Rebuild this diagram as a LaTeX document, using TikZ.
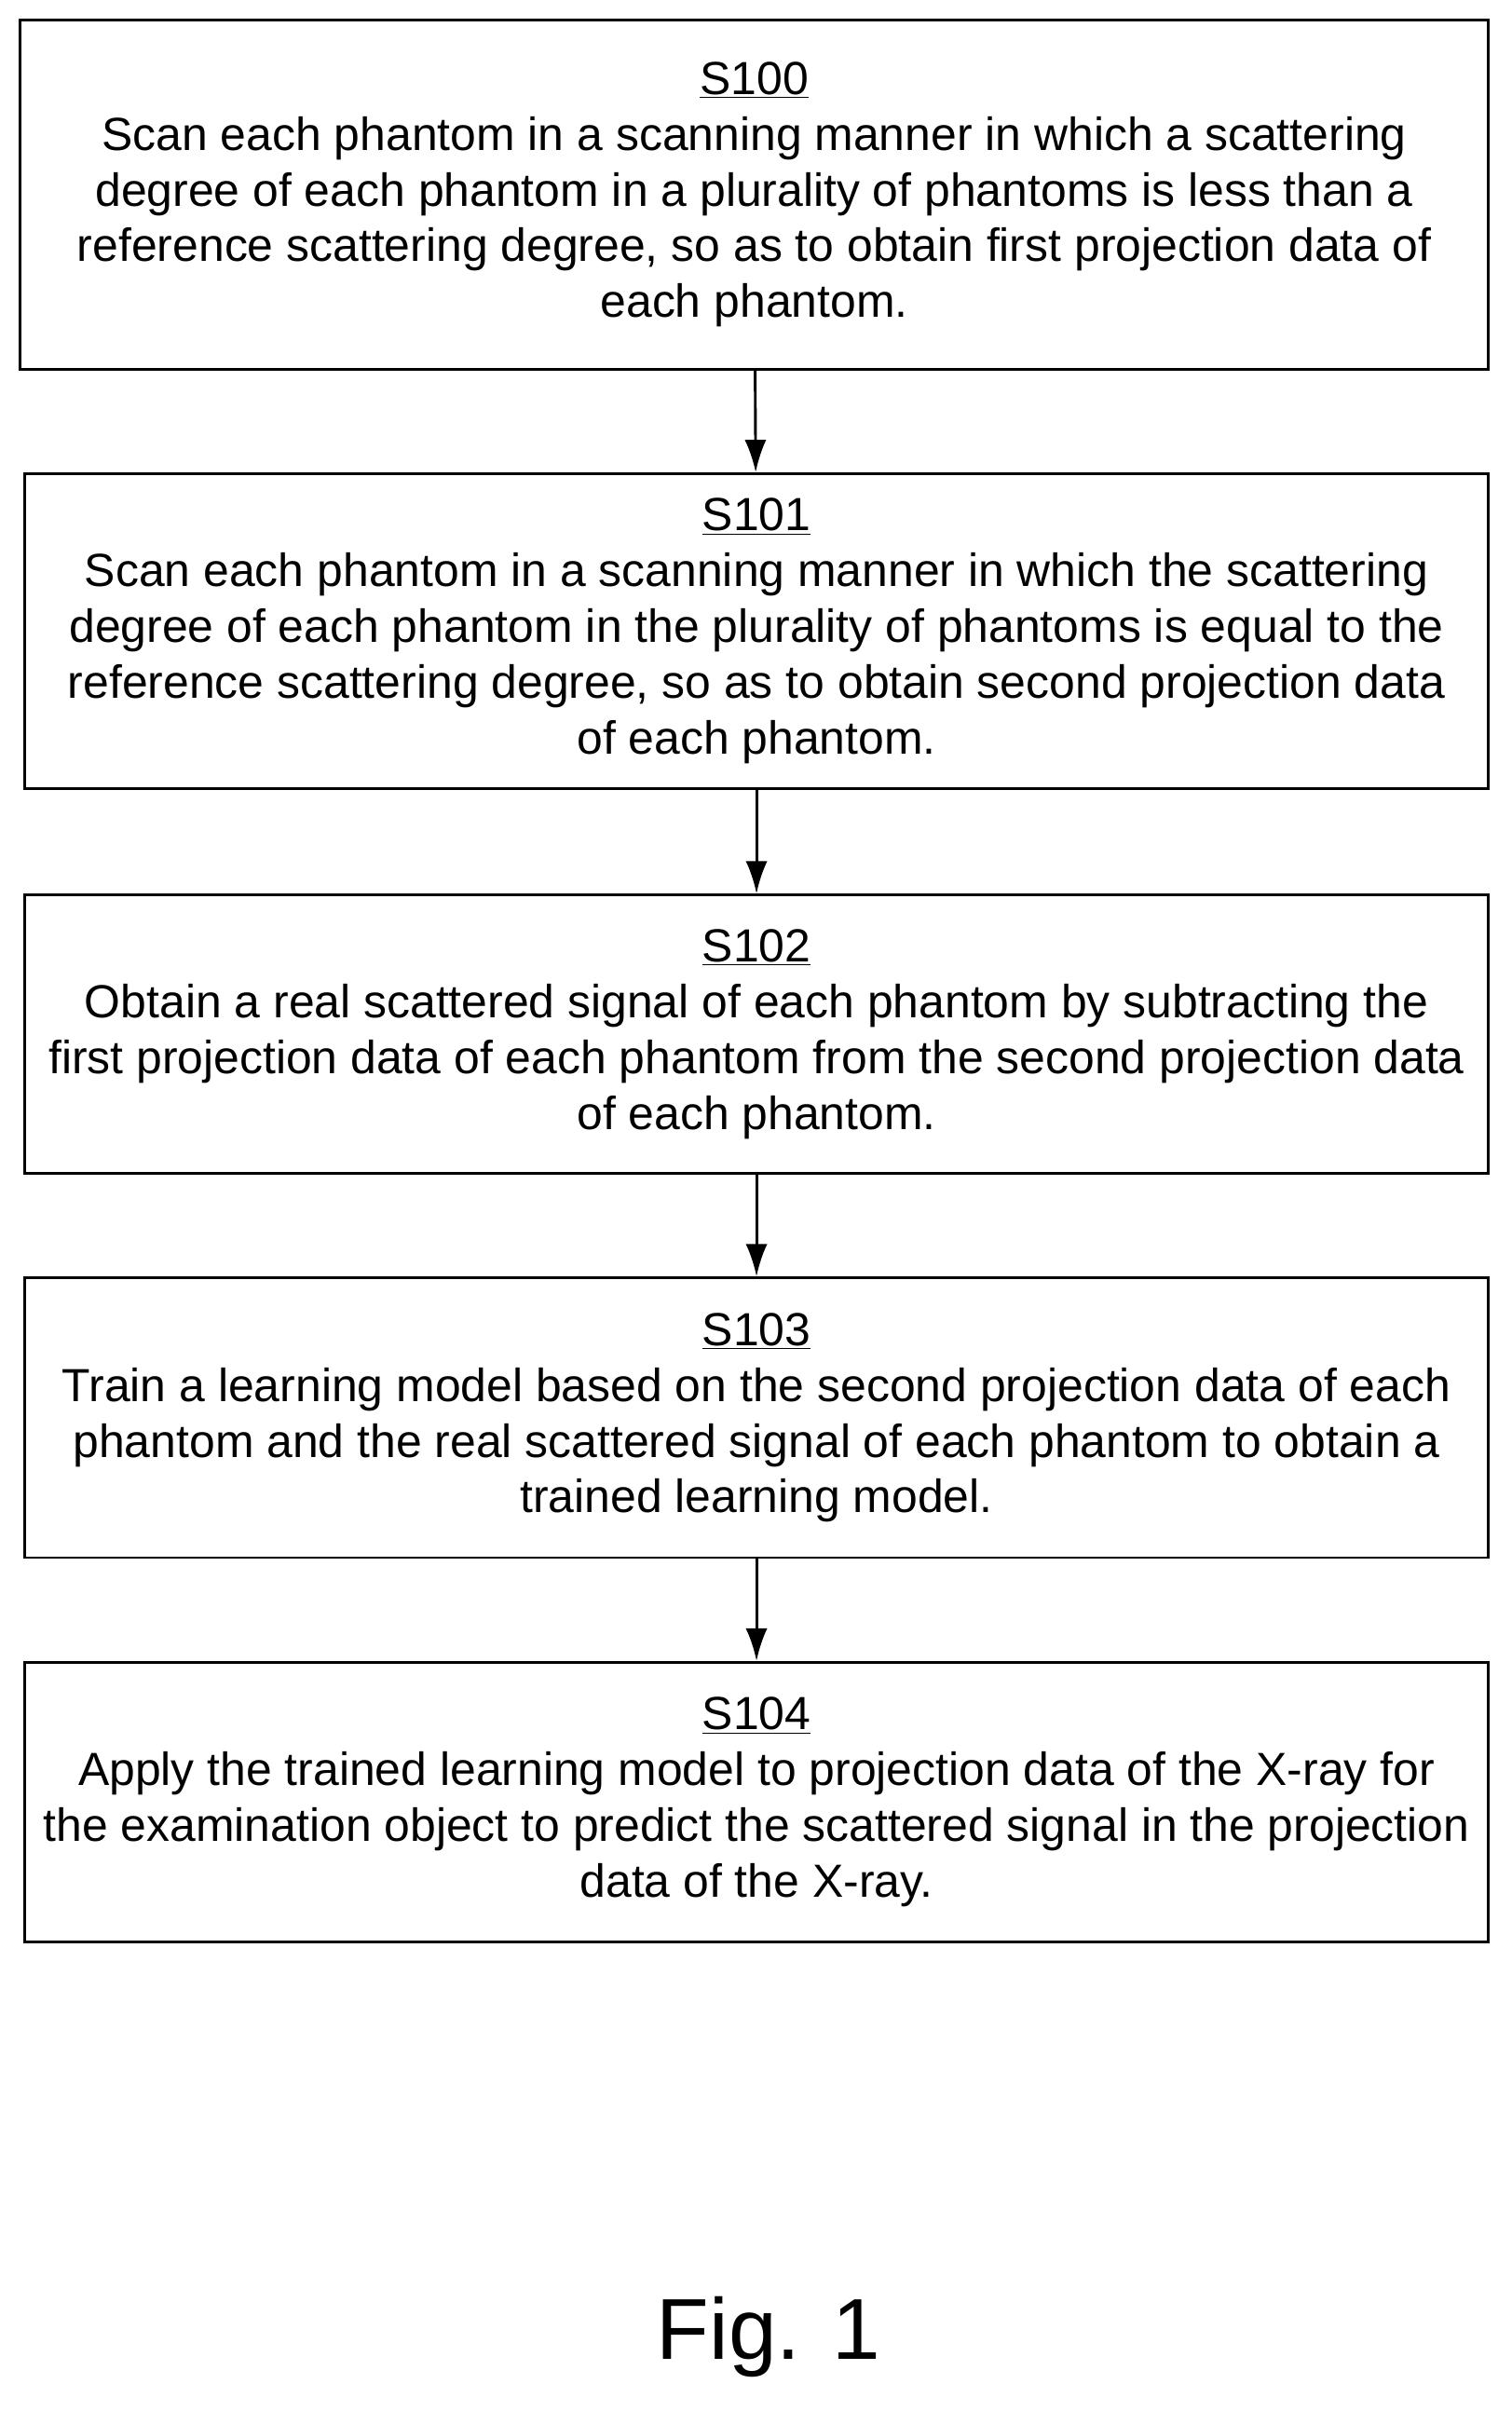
\documentclass[tikz,border=0pt]{standalone}
\usepackage{fontspec}
\setmainfont{Liberation Sans}
\usetikzlibrary{arrows.meta}
\begin{document}
\begin{tikzpicture}[x=0.03cm,y=-0.03cm]
\tikzset{stepbox/.style={draw=black,line width=1.5pt,align=center,inner sep=0pt,
  font=\fontsize{25.8}{31}\selectfont},
  flow/.style={-{Latex[length=18pt,width=12pt]},line width=1.5pt}}
\useasboundingbox (0,0) rectangle (983,1568);
\node [stepbox,minimum width=955*0.03cm,minimum height=227*0.03cm] (s100) at (490.5,126.5) {\underline{S100}\\Scan each phantom in a scanning manner in which a scattering\\degree of each phantom in a plurality of phantoms is less than a\\reference scattering degree, so as to obtain first projection data of\\each phantom.};
\node [stepbox,minimum width=952*0.03cm,minimum height=205*0.03cm] (s101) at (492,410.5) {\underline{S101}\\Scan each phantom in a scanning manner in which the scattering\\degree of each phantom in the plurality of phantoms is equal to the\\reference scattering degree, so as to obtain second projection data\\of each phantom.};
\node [stepbox,minimum width=952*0.03cm,minimum height=181*0.03cm] (s102) at (492,672.5) {\underline{S102}\\Obtain a real scattered signal of each phantom by subtracting the\\first projection data of each phantom from the second projection data\\of each phantom.};
\node [stepbox,minimum width=952*0.03cm,minimum height=182*0.03cm] (s103) at (492,922) {\underline{S103}\\Train a learning model based on the second projection data of each\\phantom and the real scattered signal of each phantom to obtain a\\trained learning model.};
\node [stepbox,minimum width=952*0.03cm,minimum height=182*0.03cm] (s104) at (492,1172) {\underline{S104}\\Apply the trained learning model to projection data of the X-ray for\\the examination object to predict the scattered signal in the projection\\data of the X-ray.};
\draw [flow] (s100) -- (s101);
\draw [flow] (s101) -- (s102);
\draw [flow] (s102) -- (s103);
\draw [flow] (s103) -- (s104);
\node [font=\fontsize{48}{54}\selectfont] (fig) at (500,1520) {Fig. 1};
\end{tikzpicture}
\end{document}
